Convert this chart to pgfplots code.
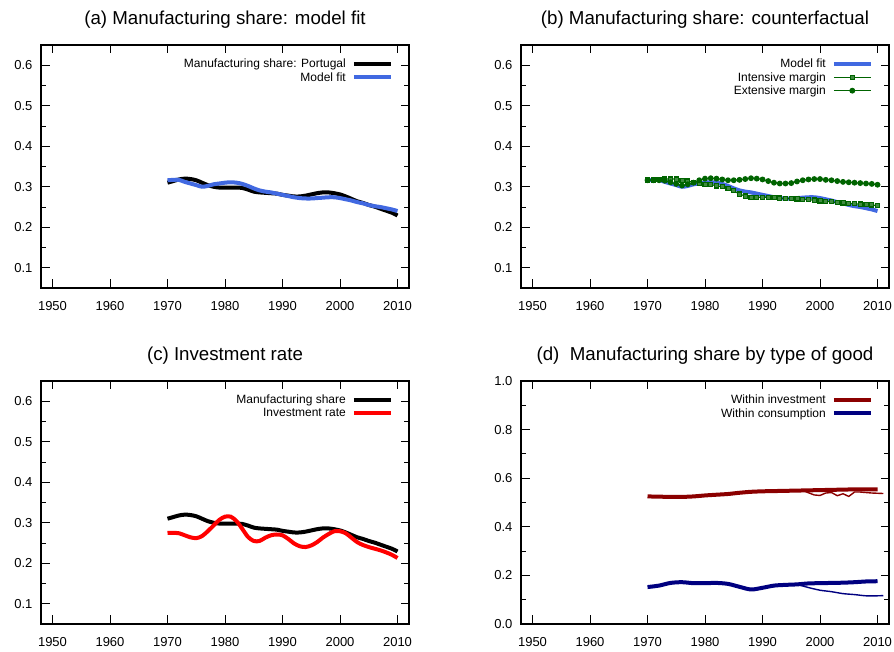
\documentclass[border=0pt]{standalone}
\usepackage{fontspec}
\setmainfont{Liberation Sans}
\usepackage{pgfplots}
\usepackage{pgfplotstable}
\pgfplotsset{compat=1.18}

\definecolor{fitblue}{RGB}{65,105,225}
\definecolor{dkgreen}{RGB}{0,100,0}
\definecolor{dkred}{RGB}{139,0,0}
\definecolor{navyblue}{RGB}{0,0,128}

% manufacturing share (data), model fit, investment rate
\pgfplotstableread{
year share fit inv
1970 0.310 0.316 0.275
1971 0.314 0.317 0.275
1972 0.318 0.317 0.274
1973 0.320 0.312 0.269
1974 0.319 0.308 0.264
1975 0.316 0.304 0.262
1976 0.310 0.300 0.267
1977 0.304 0.302 0.279
1978 0.300 0.306 0.293
1979 0.298 0.308 0.307
1980 0.298 0.310 0.315
1981 0.298 0.311 0.315
1982 0.298 0.310 0.304
1983 0.297 0.307 0.285
1984 0.293 0.302 0.265
1985 0.288 0.296 0.255
1986 0.286 0.291 0.255
1987 0.285 0.288 0.263
1988 0.284 0.286 0.269
1989 0.283 0.283 0.271
1990 0.280 0.280 0.269
1991 0.278 0.277 0.260
1992 0.276 0.274 0.249
1993 0.276 0.272 0.242
1994 0.278 0.271 0.240
1995 0.281 0.271 0.244
1996 0.284 0.272 0.252
1997 0.286 0.273 0.263
1998 0.286 0.274 0.272
1999 0.284 0.274 0.279
2000 0.281 0.272 0.279
2001 0.276 0.269 0.274
2002 0.270 0.266 0.263
2003 0.264 0.262 0.252
2004 0.260 0.259 0.245
2005 0.255 0.255 0.240
2006 0.251 0.252 0.236
2007 0.246 0.250 0.232
2008 0.241 0.247 0.227
2009 0.236 0.244 0.221
2010 0.229 0.240 0.213
}\tabA

% counterfactuals
\pgfplotstableread{
year intensive extensive
1970 0.317 0.316
1971 0.317 0.316
1972 0.318 0.316
1973 0.319 0.315
1974 0.319 0.311
1975 0.319 0.307
1976 0.316 0.303
1977 0.314 0.306
1978 0.311 0.310
1979 0.308 0.316
1980 0.306 0.320
1981 0.306 0.321
1982 0.302 0.320
1983 0.300 0.318
1984 0.296 0.316
1985 0.290 0.316
1986 0.282 0.317
1987 0.277 0.319
1988 0.274 0.321
1989 0.274 0.320
1990 0.274 0.318
1991 0.274 0.314
1992 0.273 0.310
1993 0.272 0.308
1994 0.271 0.308
1995 0.271 0.309
1996 0.270 0.313
1997 0.269 0.316
1998 0.268 0.318
1999 0.267 0.319
2000 0.265 0.319
2001 0.264 0.317
2002 0.263 0.316
2003 0.261 0.314
2004 0.260 0.312
2005 0.259 0.311
2006 0.258 0.310
2007 0.257 0.309
2008 0.256 0.308
2009 0.255 0.307
2010 0.253 0.305
}\tabB

% by type of good: model
\pgfplotstableread{
year invest cons
1970 0.525 0.152
1972 0.524 0.158
1974 0.523 0.169
1976 0.523 0.172
1978 0.525 0.168
1980 0.529 0.168
1982 0.532 0.169
1984 0.535 0.165
1986 0.540 0.153
1988 0.544 0.142
1990 0.546 0.149
1992 0.547 0.158
1994 0.548 0.161
1996 0.549 0.163
1998 0.550 0.167
2000 0.551 0.168
2002 0.552 0.169
2004 0.553 0.170
2006 0.554 0.172
2008 0.554 0.175
2010 0.554 0.176
}\tabD

% by type of good: data
\pgfplotstableread{
year invest
1997 0.550
1998 0.540
1999 0.531
2000 0.529
2001 0.539
2002 0.541
2003 0.528
2004 0.536
2005 0.525
2006 0.543
2007 0.543
2008 0.541
2009 0.539
2010 0.538
2011 0.537
}\tabDinv

\pgfplotstableread{
year cons
1996 0.163
1998 0.150
2000 0.139
2002 0.133
2004 0.125
2006 0.121
2008 0.116
2010 0.116
2011 0.117
}\tabDcons

\pgfplotsset{
  panel/.style={
    width=368pt, height=243pt, scale only axis,
    xmin=1948, xmax=2012,
    xtick={1950,1960,1970,1980,1990,2000,2010},
    minor y tick num=1,
    axis line style={line width=1.3pt},
    every tick/.style={black, line width=0.9pt},
    major tick length=8.5pt, minor tick length=5pt,
    tick align=inside,
    ticklabel style={font=\fontsize{13}{15}\selectfont},
    /pgf/number format/assume math mode=true,
    xticklabel style={yshift=-10pt, /pgf/number format/set thousands separator={}},
    yticklabel style={xshift=-5pt, /pgf/number format/fixed, /pgf/number format/fixed zerofill, /pgf/number format/precision=1},
    title style={font=\fontsize{18.7}{22}\selectfont, at={(0.5,1)}, anchor=center, yshift=19pt},
    legend style={draw=none, fill=none, at={(1,1)}, anchor=north east,
      xshift=-13pt, yshift=-10pt, font=\fontsize{12}{13}\selectfont,
      row sep=-1pt, column sep=4pt},
    legend cell align=right,
    legend plot pos=right,
    legend image code/.code={\draw[mark repeat=2,mark phase=2,##1] plot coordinates {(0pt,0pt) (18.5pt,0pt) (37pt,0pt)};},
  },
  share/.style={ymin=0.05, ymax=0.65, ytick={0.1,0.2,0.3,0.4,0.5,0.6}},
}

\begin{document}
\begin{tikzpicture}
\path[use as bounding box] (0,0) rectangle (894pt,652pt);

\begin{axis}[panel, share, at={(41pt,364pt)}, anchor=south west,
  title={(a) Manufacturing share: model fit}]
\addplot[black, line width=4pt, smooth] table[x=year, y=share] {\tabA};
\addlegendentry{Manufacturing share: Portugal}
\addplot[fitblue, line width=4pt, smooth] table[x=year, y=fit] {\tabA};
\addlegendentry{Model fit}
\end{axis}

\begin{axis}[panel, share, at={(521pt,364pt)}, anchor=south west,
  title={(b) Manufacturing share: counterfactual}]
\addplot[fitblue, line width=4pt, smooth] table[x=year, y=fit] {\tabA};
\addlegendentry{Model fit}
\addplot[dkgreen, line width=1.2pt, mark=square*, mark size=2.1pt,
  mark options={line width=1.2pt, fill=dkgreen!75!white}] table[x=year, y=intensive] {\tabB};
\addlegendentry{Intensive margin}
\addplot[dkgreen, line width=1.2pt, mark=*, mark size=2.3pt] table[x=year, y=extensive] {\tabB};
\addlegendentry{Extensive margin}
\end{axis}

\begin{axis}[panel, share, at={(41pt,28pt)}, anchor=south west,
  title={(c) Investment rate}]
\addplot[black, line width=4pt, smooth] table[x=year, y=share] {\tabA};
\addlegendentry{Manufacturing share}
\addplot[red, line width=4pt, smooth] table[x=year, y=inv] {\tabA};
\addlegendentry{Investment rate}
\end{axis}

\begin{axis}[panel, at={(521pt,28pt)}, anchor=south west,
  ymin=0, ymax=1, ytick={0,0.2,0.4,0.6,0.8,1},
  title={(d)\ \ Manufacturing share by type of good}]
\addplot[dkred, line width=4pt, smooth] table[x=year, y=invest] {\tabD};
\addlegendentry{Within investment}
\addplot[navyblue, line width=4pt, smooth] table[x=year, y=cons] {\tabD};
\addlegendentry{Within consumption}
\addplot[dkred, line width=1.4pt, forget plot] table[x=year, y=invest] {\tabDinv};
\addplot[navyblue, line width=1.4pt, forget plot, smooth] table[x=year, y=cons] {\tabDcons};
\end{axis}
\end{tikzpicture}
\end{document}
